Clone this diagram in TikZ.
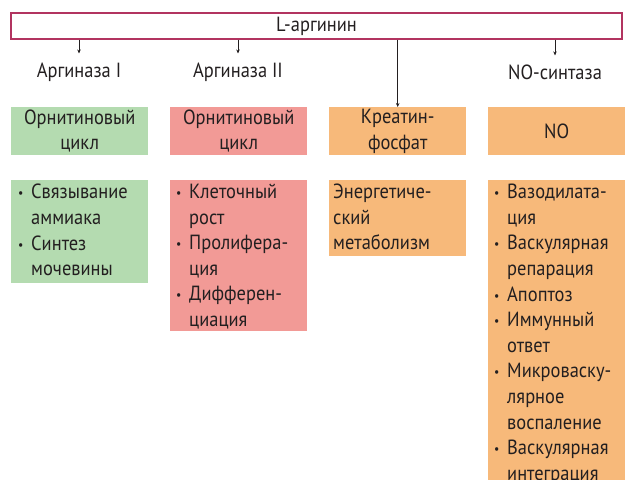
\documentclass[tikz,border=0pt]{standalone}
\usepackage{fontspec}
\setmainfont{PT Sans}[FakeStretch=0.9]
\usetikzlibrary{arrows.meta}
\definecolor{frame}{RGB}{178,52,96}
\definecolor{gfill}{RGB}{180,219,176}
\definecolor{rfill}{RGB}{242,154,150}
\definecolor{ofill}{RGB}{247,185,122}
\definecolor{ink}{RGB}{35,31,32}
\newcommand\itm{\makebox[13pt][l]{\fontsize{13}{13}\selectfont\raisebox{1pt}{•}}}
\newcommand\cnt{\hspace*{13pt}}
\begin{document}
\begin{tikzpicture}[x=1pt,y=-1pt,
 txt/.style={font=\fontsize{20.5}{25.6}\selectfont, text=ink, inner sep=0pt},
 hbox/.style={minimum width=137pt, minimum height=48pt, inner sep=0pt, anchor=north west, txt, align=center},
 lbox/.style={anchor=north west, inner sep=0pt, minimum width=137pt},
 lst/.style={txt, align=left, anchor=north west},
 arr/.style={-{Stealth[length=4pt,width=3.5pt]}, line width=0.6pt, draw=ink},
]
\useasboundingbox (0,0) rectangle (626,479);
\clip (0,0) rectangle (626,479);
\node[draw=frame, line width=1.2pt, minimum width=611pt, minimum height=26pt, txt] (top) at (316.5,26) {L-аргинин};

\node[txt] (l1) at (79,72) {Аргиназа I};
\node[txt] (l2) at (238,72) {Аргиназа II};
\node[txt] (l4) at (555,72) {NO-синтаза};

\node[hbox, fill=gfill] (g1) at (11,107) {Орнитиновый\\цикл};
\node[hbox, fill=rfill] (r1) at (170,107) {Орнитиновый\\цикл};
\node[hbox, fill=ofill] (o1) at (329,107) {Креатин-\\фосфат};
\node[hbox, fill=ofill] (n1) at (488,107) {NO};

\draw[arr] (top.south -| l1) -- ([yshift=9pt]l1.north);
\draw[arr] (top.south -| l2) -- ([yshift=9pt]l2.north);
\draw[arr] (top.south -| l4) -- ([yshift=9pt]l4.north);
\draw[arr] (top.south -| o1.north) -- (o1.north);

\node[lbox, fill=gfill, minimum height=103pt] (g2) at (11,180) {};
\node[lbox, fill=rfill, minimum height=151pt] (r2) at (170,180) {};
\node[lbox, fill=ofill, minimum height=76pt] (o2) at (329,180) {};
\node[lbox, fill=ofill, minimum height=310pt] (n2) at (488,180) {};

\node[lst] (g2t) at ([xshift=7pt,yshift=-4pt]g2.north west)
 {\itm Связывание\\\cnt аммиака\\\itm Синтез\\\cnt мочевины};
\node[lst] (r2t) at ([xshift=6pt,yshift=-4pt]r2.north west)
 {\itm Клеточный\\\cnt рост\\\itm Пролифера-\\\cnt ция\\\itm Дифферен-\\\cnt циация};
\node[lst] (o2t) at ([xshift=4pt,yshift=-4pt]o2.north west)
 {Энергетиче-\\ский\\метаболизм};
\node[lst] (n2t) at ([xshift=6pt,yshift=-4pt]n2.north west)
 {\itm Вазодилата-\\\cnt ция\\\itm Васкулярная\\\cnt репарация\\\itm Апоптоз\\\itm Иммунный\\\cnt ответ\\\itm Микроваску-\\\cnt лярное\\\cnt воспаление\\\itm Васкулярная\\\cnt интеграция};
\end{tikzpicture}
\end{document}
